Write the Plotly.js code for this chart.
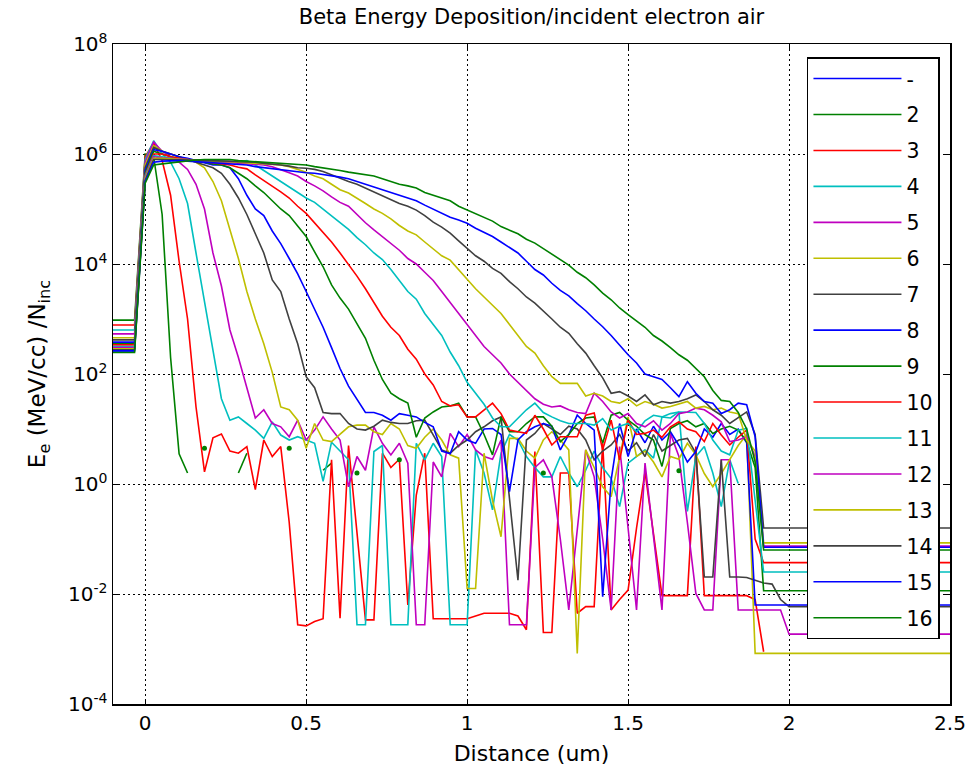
<!DOCTYPE html>
<html>
<head>
<meta charset="utf-8">
<script src="https://cdn.plot.ly/plotly-3.0.1.min.js"></script>
<style>html,body{margin:0;padding:0;background:#fff;}#chart{width:970px;height:774px;}</style>
</head>
<body>
<div id="chart"></div>
<script>
// Shared distance grid (um)
var distance = [-0.1, -0.033, 0, 0.0263, 0.0526, 0.0789, 0.1053, 0.1316, 0.1579, 0.1842, 0.2105, 0.2368,
  0.2632, 0.2895, 0.3158, 0.3421, 0.3684, 0.3947, 0.4211, 0.4474, 0.4737, 0.5, 0.5263, 0.5526, 0.5789,
  0.6053, 0.6316, 0.6579, 0.6842, 0.7105, 0.7368, 0.7632, 0.7895, 0.8158, 0.8421, 0.8684, 0.8947, 0.9211,
  0.9474, 0.9737, 1.0, 1.0263, 1.0526, 1.0789, 1.1053, 1.1316, 1.1579, 1.1842, 1.2105, 1.2368, 1.2632,
  1.2895, 1.3158, 1.3421, 1.3684, 1.3947, 1.4211, 1.4474, 1.4737, 1.5, 1.5263, 1.5526, 1.5789, 1.6053,
  1.6316, 1.6579, 1.6842, 1.7105, 1.7368, 1.7632, 1.7895, 1.8158, 1.8421, 1.8684, 1.8947, 1.9211, 1.9474,
  1.9737, 2.0, 2.5];

// Series 1 ("-") only has the short segment on the left
var distanceS1 = [-0.1, -0.033];
var logS1 = [2.42, 2.42];

// log10 of E_e per series (null = zero deposition, not drawn on log scale)
var N = null;
var logS2 = [2.98, 2.98,
  6.0, 5.95, 4.9, 2.3, 0.55, 0.2, N, 0.65, N, N,
  N, 0.2, 0.56, N, N, N, N, 0.65, N, N,
  N, 0.25, 0.38, N, N, 0.2, N, N, N, N,
  0.44, N, N, N, N, N, N, N, N, N,
  N, N, N, N, N, N, N, 0.2, N, N,
  N, N, N, N, N, N, N, N, N, N,
  N, N, N, 0.24, N, N, N, N, N, N,
  N, N, N,
  N, N, N, N, N];
var logS3 = [2.89, 2.89,
  5.95, 6.2, 5.88, 5.25, 4.05, 3.0, 1.4, 0.22, 0.84, 0.91,
  0.6, 0.56, 0.68, -0.1, 0.8, 0.5, 0.68, -0.7, -2.56, -2.58,
  -2.5, -2.45, 0.44, -2.44, 0.7, -0.9, -2.47, -2.47, 0.56, 0.3,
  0.45, -2.2, -0.2, 0.56, -2.45, -2.45, -2.45, -2.45, -2.45, -2.4,
  -2.35, -2.35, -2.35, -2.35, -2.4, -2.65, 0.59, -2.7, -2.7, 0.2,
  0.2, -2.35, -2.23, -2.23, 0.74, -2.29, -2.1, -1.93, -0.8, 0.22,
  -0.9, -2.03, -2.03, -2.03, -2.03, 0.68, -2.03, -2.03, -2.03, -2.03,
  -2.03, -2.03, -2.1,
  -3.05, N, N, N, N];
var logS4 = [2.8, 2.8,
  5.9, 6.24, 6.0, 5.85, 5.55, 5.1, 4.2, 3.3, 2.4, 1.55,
  1.16, 1.22, 1.1, 0.98, 0.83, 1.13, 0.89, 0.8, 0.86, 0.8,
  0.74, 0.05, 0.76, 0.6, 0.44, -2.56, -2.56, 0.59, 0.7, -2.56,
  -2.56, -2.56, 0.74, 0.44, 0.74, 0.5, -2.56, -2.56, -2.56, 0.62,
  0.2, -0.47, 0.56, 0.9, 0.8, 0.5, 0.3, 0.13, 0.13, 0.5,
  0.2, -0.05, 0.25, 0.6, 0.3, 0.1, -0.41, 0.38, 0.5, 0.62,
  0.47, 1.22, 1.2, 1.31, -0.5, 0.5, 0.68, 0.2, -0.41, 0.44,
  0.01, N, N,
  N, N, N, N, N];
var logS5 = [2.73, 2.73,
  5.85, 6.22, 6.05, 5.95, 5.85, 5.72, 5.45, 5.0, 4.2, 3.6,
  2.8, 2.3, 1.75, 1.2, 1.35, 1.1, 1.04, 0.86, 1.16, 0.8,
  0.98, 1.22, 1.0, 0.8, -0.05, 0.5, 0.25, 1.04, 0.74, 0.53,
  0.74, 0.38, -2.56, -2.56, 0.4, 0.13, 0.92, 0.68, 0.9, 0.62,
  0.5, 0.45, 0.8, -2.56, -2.56, -2.56, 0.3, 0.44, 0.13, -1.0,
  -2.29, -0.8, 0.62, 0.13, -1.0, -2.29, 0.68, -0.8, -2.29, 0.38,
  -0.9, -2.29, 0.92, 0.5, -0.7, -1.99, -2.29, -2.29, 0.44, 0.44,
  -2.29, -2.29, -2.29,
  -2.29, -2.29, -2.29, -2.73, -2.73];
var logS6 = [2.66, 2.66,
  5.8, 6.15, 6.05, 6.0, 5.95, 5.9, 5.85, 5.75, 5.5, 5.15,
  4.6, 4.1, 3.5, 3.0, 2.55, 2.03, 1.4, 1.35, 1.16, 0.65,
  1.1, 0.8, 0.77, 0.9, 1.04, 1.07, 1.07, 0.95, 0.9, 1.1,
  1.0, 0.7, 0.65, 0.85, 1.0, 0.8, 0.53, 0.47, -1.9, -1.9,
  0.56, -0.3, -0.96, 0.83, 0.83, 0.6, 0.47, 0.8, 0.95, 0.8,
  0.62, -3.08, 0.62, 0.3, -0.05, -0.23, 0.5, 1.22, 0.5, 0.6,
  0.4, 0.13, 0.5, 0.45, 0.74, 0.53, 0.19, -0.05, 0.19, 0.44,
  0.7, 0.9, -3.08,
  -3.08, -3.08, -3.08, -3.08, -3.08];
var logS7 = [2.62, 2.62,
  5.75, 6.12, 6.05, 6.0, 5.95, 5.9, 5.85, 5.8, 5.75, 5.65,
  5.45, 5.2, 4.9, 4.55, 4.2, 3.71, 3.5, 3.0, 2.55, 1.95,
  1.75, 1.3, 1.28, 1.28, 1.1, 1.0, 0.98, 1.05, 1.16, 1.12,
  1.1, 1.1, 1.15, 1.16, 0.9, 0.62, 0.56, 0.7, 0.8, 0.95,
  1.04, 1.15, 1.22, -0.3, -1.75, 0.8, 0.92, 1.1, 1.0, 0.9,
  1.05, 1.0, 0.8, 0.44, 0.6, 0.71, 0.9, 0.6, 0.75, 0.5,
  0.9, 0.6, 0.7, 0.8, 0.83, 0.56, -1.69, -1.69, 0.44, -1.69,
  -1.69, -1.7, -1.75,
  -1.8, -1.82, -2.1, -2.23, -2.23];
var logS8 = [2.58, 2.58,
  5.7, 6.08, 6.05, 6.0, 5.95, 5.92, 5.88, 5.85, 5.8, 5.8,
  5.75, 5.55, 5.25, 5.0, 4.88, 4.6, 4.37, 4.1, 3.82, 3.5,
  3.17, 2.85, 2.48, 2.1, 1.78, 1.55, 1.3, 1.3, 1.25, 1.16,
  1.28, 1.25, 1.22, 1.12, 1.04, 0.6, 0.55, 0.95, 0.8, 0.74,
  1.0, 1.01, 0.9, -0.14, 0.8, 0.95, 1.04, 1.1, 1.05, 0.62,
  0.9, 1.25, 1.1, 0.98, -2.05, 0.07, 1.1, 0.5, 1.0, 0.75,
  1.05, 0.8, 0.95, 0.7, 0.4, 0.59, 1.0, 0.85, 1.1, 0.9,
  1.0, 0.75, -2.2,
  -2.2, -2.2, -2.2, -2.2, -2.2];
var logS9 = [2.55, 2.55,
  5.65, 6.05, 6.0, 5.95, 5.92, 5.9, 5.88, 5.85, 5.82, 5.8,
  5.75, 5.65, 5.55, 5.42, 5.3, 5.15, 5.0, 4.88, 4.68, 4.5,
  4.22, 3.95, 3.62, 3.38, 3.18, 2.92, 2.65, 2.25, 1.9, 1.65,
  1.55, 1.47, 0.85, 1.2, 1.31, 1.4, 1.42, 1.47, 1.22, 1.22,
  0.9, 0.53, 1.22, 0.95, 0.95, 1.1, 1.22, 1.22, 1.05, 0.77,
  0.9, 1.1, 1.2, 1.22, 0.74, 1.25, 1.3, 1.16, 1.05, 0.9,
  0.8, 0.32, 1.01, 1.1, 1.15, 1.04, 1.1, 0.92, 1.0, 1.05,
  0.98, 0.77, 0.3,
  -1.94, -1.94, -1.94, -1.94, -1.94];
var logS10 = [2.53, 2.53,
  5.62, 6.0, 6.0, 5.95, 5.92, 5.9, 5.88, 5.87, 5.85, 5.82,
  5.8, 5.76, 5.73, 5.62, 5.52, 5.42, 5.31, 5.2, 5.05, 4.92,
  4.75, 4.58, 4.4, 4.2, 4.0, 3.78, 3.55, 3.3, 3.05, 2.85,
  2.7, 2.45, 2.27, 2.0, 1.8, 1.5, 1.42, 1.44, 1.22, 1.22,
  1.35, 1.47, 1.28, 0.98, 0.95, 0.92, 1.25, 1.0, 0.71, 0.86,
  0.86, 0.86, 1.25, 1.29, 0.62, 1.16, 0.44, 1.16, 0.9, 0.92,
  0.98, 0.85, 1.04, 1.13, 1.0, 0.95, 0.77, 1.1, 0.89, 0.71,
  0.85, 0.98, -1.0,
  -1.43, -1.43, -1.43, -1.43, -1.43];
var logS11 = [2.5, 2.5,
  5.6, 5.97, 5.95, 5.92, 5.9, 5.9, 5.88, 5.87, 5.86, 5.86,
  5.86, 5.86, 5.88, 5.8, 5.7, 5.6, 5.5, 5.4, 5.3, 5.2,
  5.12, 5.0, 4.88, 4.75, 4.63, 4.48, 4.35, 4.2, 4.08, 3.9,
  3.7, 3.5, 3.36, 3.1, 2.9, 2.7, 2.4, 2.15, 1.85, 1.65,
  1.45, 1.2, 1.04, 1.04, 1.2, 1.35, 1.47, 1.3, 1.22, 1.15,
  1.1, 1.1, 1.1, 1.07, 1.19, 0.98, 1.05, 1.1, 0.95, 1.15,
  1.25, 1.22, 1.28, 1.31, 1.31, 1.3, 1.1, 0.8, 0.6, 0.53,
  0.98, 1.01, -0.3,
  -1.6, -1.6, -1.6, -1.6, -1.6];
var logS12 = [2.48, 2.48,
  5.57, 5.95, 5.93, 5.92, 5.9, 5.9, 5.89, 5.88, 5.87, 5.86,
  5.85, 5.84, 5.83, 5.82, 5.8, 5.77, 5.72, 5.66, 5.6, 5.5,
  5.42, 5.33, 5.22, 5.12, 5.05, 4.9, 4.75, 4.62, 4.5, 4.38,
  4.25, 4.1, 4.0, 3.85, 3.7, 3.5, 3.3, 3.1, 2.92, 2.7,
  2.5, 2.35, 2.2, 2.0, 1.85, 1.7, 1.55, 1.45, 1.4, 1.42,
  1.35, 1.3, 1.28, 1.65, 1.5, 1.31, 1.2, 1.28, 1.1, 1.04,
  1.15, 0.98, 1.1, 1.28, 1.31, 1.38, 1.35, 1.25, 1.13, 0.77,
  0.8, 0.86, 0.5,
  -1.13, -1.13, -1.13, -1.13, -1.13];
var logS13 = [2.46, 2.46,
  5.55, 5.92, 5.92, 5.91, 5.9, 5.9, 5.89, 5.88, 5.87, 5.86,
  5.86, 5.85, 5.85, 5.84, 5.83, 5.82, 5.8, 5.77, 5.72, 5.67,
  5.6, 5.55, 5.45, 5.35, 5.29, 5.2, 5.1, 5.0, 4.92, 4.82,
  4.7, 4.6, 4.53, 4.4, 4.28, 4.15, 4.07, 3.9, 3.71, 3.55,
  3.4, 3.25, 3.1, 2.9, 2.7, 2.5, 2.38, 2.15, 1.95, 1.83,
  1.83, 1.83, 1.6, 1.65, 1.6, 1.5, 1.47, 1.55, 1.42, 1.5,
  1.45, 1.38, 1.41, 1.45, 1.5, 1.38, 1.41, 1.35, 1.38, 1.31,
  1.28, 0.8, 0.6,
  -1.07, -1.07, -1.07, -1.07, -1.07];
var logS14 = [2.44, 2.44,
  5.52, 5.9, 5.9, 5.9, 5.9, 5.89, 5.89, 5.88, 5.88, 5.87,
  5.87, 5.86, 5.86, 5.85, 5.83, 5.82, 5.8, 5.78, 5.75, 5.74,
  5.72, 5.68, 5.62, 5.55, 5.5, 5.45, 5.38, 5.31, 5.25, 5.18,
  5.1, 5.05, 4.98, 4.88, 4.76, 4.67, 4.56, 4.42, 4.28, 4.15,
  4.05, 3.92, 3.83, 3.68, 3.55, 3.4, 3.29, 3.15, 3.0, 2.85,
  2.74, 2.55, 2.38, 2.15, 1.93, 1.65, 1.68, 1.6, 1.5, 1.62,
  1.44, 1.5, 1.47, 1.5, 1.55, 1.62, 1.5, 1.35, 1.25, 1.1,
  1.2, 1.31, 0.9,
  -0.8, -0.8, -0.8, -0.8, -0.8];
var logS15 = [2.42, 2.42,
  5.5, 5.85, 5.87, 5.88, 5.88, 5.87, 5.86, 5.85, 5.84, 5.83,
  5.82, 5.81, 5.8, 5.77, 5.75, 5.73, 5.71, 5.7, 5.68, 5.66,
  5.65, 5.63, 5.6, 5.58, 5.55, 5.5, 5.45, 5.4, 5.35, 5.3,
  5.25, 5.2, 5.15, 5.07, 5.0, 4.92, 4.85, 4.8, 4.74, 4.65,
  4.58, 4.5, 4.4, 4.3, 4.2, 4.05, 3.9, 3.8, 3.65, 3.52,
  3.42, 3.28, 3.15, 3.0, 2.86, 2.7, 2.52, 2.35, 2.2, 2.0,
  1.95, 1.9, 1.75, 1.59, 1.86, 1.65, 1.5, 1.47, 1.28, 1.35,
  1.47, 1.44, 0.86,
  -1.15, -1.15, -1.15, -1.15, -1.15];
var logS16 = [2.39, 2.39,
  5.47, 5.8, 5.82, 5.84, 5.86, 5.88, 5.89, 5.9, 5.9, 5.9,
  5.9, 5.88, 5.87, 5.86, 5.85, 5.84, 5.82, 5.81, 5.8, 5.8,
  5.77, 5.75, 5.72, 5.7, 5.67, 5.65, 5.62, 5.6, 5.55, 5.5,
  5.45, 5.42, 5.38, 5.3, 5.25, 5.2, 5.15, 5.05, 4.98, 4.92,
  4.85, 4.78, 4.68, 4.62, 4.55, 4.45, 4.38, 4.28, 4.18, 4.08,
  3.98, 3.85, 3.75, 3.62, 3.47, 3.35, 3.2, 3.08, 2.96, 2.85,
  2.7, 2.6, 2.48, 2.35, 2.25, 2.1, 1.95, 1.7, 1.52, 1.5,
  1.3, 1.0, 0.4,
  -1.2, -1.2, -1.2, -1.2, -1.2];

var seriesNames = ['-', '2', '3', '4', '5', '6', '7', '8', '9', '10', '11', '12', '13', '14', '15', '16'];
var seriesColors = ['#0000FF', '#008000', '#FF0000', '#00BFBF', '#BF00BF', '#BFBF00', '#404040',
  '#0000FF', '#008000', '#FF0000', '#00BFBF', '#BF00BF', '#BFBF00', '#404040', '#0000FF', '#008000'];
var seriesLogs = [logS1, logS2, logS3, logS4, logS5, logS6, logS7, logS8, logS9, logS10,
  logS11, logS12, logS13, logS14, logS15, logS16];
var seriesX = [distanceS1].concat(Array(15).fill(distance));

var yTickVals = [1e-4, 1e-2, 1, 1e2, 1e4, 1e6, 1e8];
var yTickText = ['10<sup>-4</sup>', '10<sup>-2</sup>', '10<sup>0</sup>', '10<sup>2</sup>',
  '10<sup>4</sup>', '10<sup>6</sup>', '10<sup>8</sup>'];
var xTickVals = [0, 0.5, 1, 1.5, 2, 2.5];
var xTickText = ['0', '0.5', '1', '1.5', '2', '2.5'];

function toValue(v) { return v === null ? null : Math.pow(10, v); }

var traces = [];
var dotTraces = [];
for (var k = 0; k < seriesLogs.length; k++) {
  var ys = seriesLogs[k].map(toValue);
  var xs = seriesX[k];
  traces.push({
    type: 'scatter', mode: 'lines', name: seriesNames[k], x: xs, y: ys,
    line: {color: seriesColors[k], width: 1.6}, connectgaps: false,
    legendgroup: 'g' + k
  });
  // isolated non-zero samples show as dots
  var dx = [], dy = [];
  for (var i = 0; i < ys.length; i++) {
    if (ys[i] !== null && (i === 0 || ys[i-1] === null) && (i === ys.length - 1 || ys[i+1] === null)) {
      dx.push(xs[i]); dy.push(ys[i]);
    }
  }
  if (dx.length) {
    dotTraces.push({type: 'scatter', mode: 'markers', x: dx, y: dy, showlegend: false,
      marker: {color: seriesColors[k], size: 5}, hoverinfo: 'skip'});
  }
}

var FONT = 'DejaVu Sans, Liberation Sans, Arial, sans-serif';
var layout = {
  width: 970, height: 774,
  margin: {l: 113, r: 20, t: 44, b: 70},
  paper_bgcolor: '#ffffff', plot_bgcolor: '#ffffff',
  font: {family: FONT, color: '#000'},
  title: {text: 'Beta Energy Deposition/incident electron air', font: {size: 21, family: FONT, color: '#000'},
    x: 0.5, xref: 'paper', y: 0.978, yref: 'container', yanchor: 'middle'},
  showlegend: true,
  xaxis: {
    range: [-0.1, 2.5], tickvals: xTickVals, ticktext: xTickText,
    ticks: 'inside', ticklen: 5, tickcolor: '#000', tickwidth: 1,
    showline: true, linecolor: '#000', linewidth: 1.5, mirror: 'all',
    showgrid: true, gridcolor: '#000', griddash: '2px,3px', gridwidth: 1, zeroline: false,
    tickfont: {size: 20, family: FONT, color: '#000'},
    title: {text: 'Distance (um)', font: {size: 22, family: FONT, color: '#000'}, standoff: 12}
  },
  yaxis: {
    type: 'log', range: [-4, 8], tickvals: yTickVals, ticktext: yTickText,
    ticks: 'inside', ticklen: 5, tickcolor: '#000', tickwidth: 1,
    showline: true, linecolor: '#000', linewidth: 1.5, mirror: 'all',
    showgrid: true, gridcolor: '#000', griddash: '2px,3px', gridwidth: 1, zeroline: false,
    tickfont: {size: 20, family: FONT, color: '#000'},
    title: {text: 'E<sub>e</sub> (MeV/cc) /N<sub>inc</sub>', font: {size: 23, family: FONT, color: '#000'}, standoff: 16}
  },
  legend: {
    x: 0.988, y: 0.98, xanchor: 'right', yanchor: 'top',
    bgcolor: '#ffffff', bordercolor: '#000', borderwidth: 1.5,
    font: {size: 20.5, family: FONT, color: '#000'},
    itemwidth: 88, tracegroupgap: 6.3, traceorder: 'grouped'
  }
};

Plotly.newPlot('chart', traces.concat(dotTraces), layout, {displayModeBar: false, staticPlot: true});
</script>
</body>
</html>
